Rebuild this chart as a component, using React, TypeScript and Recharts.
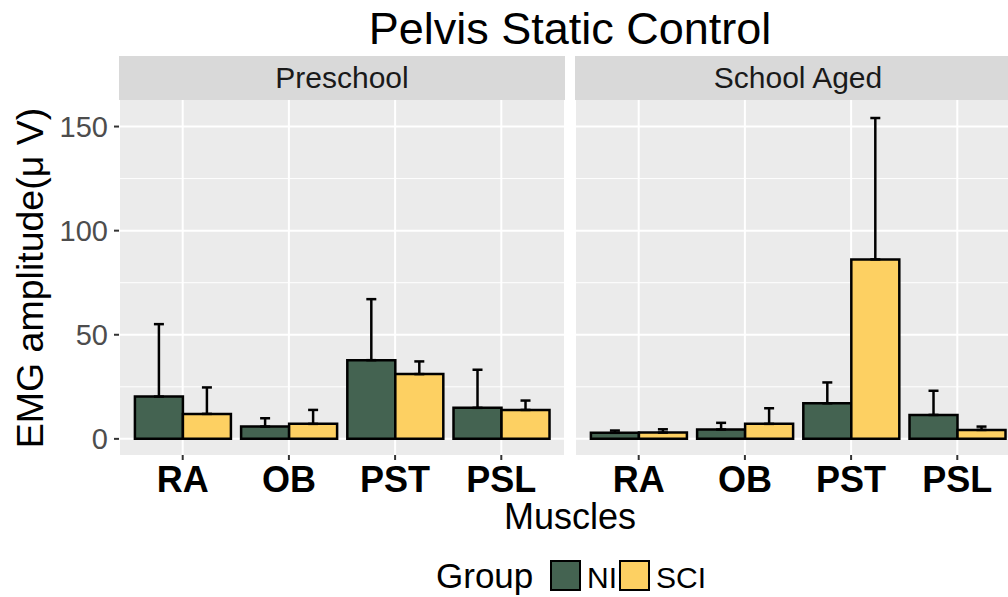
import { BarChart, Bar, XAxis, YAxis, CartesianGrid, ErrorBar } from 'recharts'

const FONT = '"Liberation Sans", Arial, Helvetica, sans-serif'

const muscles = ['RA', 'OB', 'PST', 'PSL']

// Preschool
const preschoolNI = [20.3, 5.9, 37.8, 14.9]
const preschoolNISd = [34.8, 4.0, 29.3, 18.3]
const preschoolSCI = [12.0, 7.2, 31.1, 13.9]
const preschoolSCISd = [12.7, 6.7, 6.1, 4.5]

// School Aged
const schoolNI = [2.9, 4.5, 17.1, 11.5]
const schoolNISd = [1.1, 3.2, 10.0, 11.6]
const schoolSCI = [3.0, 7.2, 86.2, 4.3]
const schoolSCISd = [1.6, 7.5, 67.9, 1.6]

const yTicks = [0, 50, 100, 150]
const yMinor = [25, 75, 125]

const NI_COLOR = '#446351'
const SCI_COLOR = '#fdd062'

function makeRows(ni: number[], niSd: number[], sci: number[], sciSd: number[]) {
  return muscles.map((m, i) => ({
    muscle: m,
    NI: ni[i],
    SCI: sci[i],
    niErr: [0, niSd[i]],
    sciErr: [0, sciSd[i]],
  }))
}

const preschoolRows = makeRows(preschoolNI, preschoolNISd, preschoolSCI, preschoolSCISd)
const schoolRows = makeRows(schoolNI, schoolNISd, schoolSCI, schoolSCISd)

interface PanelProps {
  rows: ReturnType<typeof makeRows>
  showY: boolean
}

function Panel({ rows, showY }: PanelProps) {
  const yWidth = showY ? 119 : 0
  return (
    <BarChart
      width={446 + yWidth}
      height={400}
      data={rows}
      margin={{ top: 0, right: 0, bottom: 0, left: 0 }}
      barCategoryGap="5%"
      barGap={0}
    >
      <CartesianGrid
        fill="#ebebeb"
        stroke="#ffffff"
        strokeWidth={2}
        horizontalValues={yTicks}
      />
      <CartesianGrid
        stroke="#ffffff"
        strokeWidth={1}
        vertical={false}
        horizontalValues={yMinor}
      />
      <XAxis
        dataKey="muscle"
        interval={0}
        height={45}
        padding={{ left: 10.6, right: 10.6 }}
        axisLine={false}
        tickLine={{ stroke: '#333333', strokeWidth: 2 }}
        tickSize={5}
        tickMargin={6}
        tick={{ fontSize: 36, fontWeight: 'bold', fill: '#000000', fontFamily: FONT }}
      />
      <YAxis
        hide={!showY}
        width={yWidth}
        domain={[-7.75, 162.75]}
        allowDataOverflow
        ticks={yTicks}
        axisLine={false}
        tickLine={{ stroke: '#333333', strokeWidth: 2 }}
        tickSize={5}
        tickMargin={6}
        tick={{ fontSize: 29, fill: '#4d4d4d', fontFamily: FONT }}
      />
      <Bar dataKey="NI" fill={NI_COLOR} stroke="#000000" strokeWidth={2.5} isAnimationActive={false}>
        <ErrorBar dataKey="niErr" width={5} stroke="#000000" strokeWidth={2.5} />
      </Bar>
      <Bar dataKey="SCI" fill={SCI_COLOR} stroke="#000000" strokeWidth={2.5} isAnimationActive={false}>
        <ErrorBar dataKey="sciErr" width={5} stroke="#000000" strokeWidth={2.5} />
      </Bar>
    </BarChart>
  )
}

const stripStyle = (left: number): React.CSSProperties => ({
  position: 'absolute',
  left,
  top: 56,
  width: 446,
  height: 44,
  background: '#d9d9d9',
  color: '#1a1a1a',
  fontSize: 30,
  lineHeight: '44px',
  textAlign: 'center',
  fontFamily: FONT,
})

export default function App() {
  return (
    <div
      style={{
        position: 'fixed',
        left: 0,
        top: 0,
        width: 1008,
        height: 597,
        overflow: 'hidden',
        background: '#ffffff',
        fontFamily: FONT,
      }}
    >
      <svg width={1008} height={597} style={{ position: 'absolute', left: 0, top: 0 }}>
        <text x={570} y={44} textAnchor="middle" fontSize={45} fill="#000" fontFamily={FONT}>
          Pelvis Static Control
        </text>
        <text
          transform="translate(43,278) rotate(-90)"
          textAnchor="middle"
          fontSize={37.5}
          fill="#000"
          fontFamily={FONT}
        >
          EMG amplitude(μ V)
        </text>
        <text x={570} y={529} textAnchor="middle" fontSize={36} fill="#000" fontFamily={FONT}>
          Muscles
        </text>
        <text x={436} y={588} fontSize={35} fill="#000" fontFamily={FONT}>
          Group
        </text>
        <rect x={551} y={561} width={29} height={29} fill={NI_COLOR} stroke="#000" strokeWidth={2} />
        <text x={587} y={588} fontSize={30} fill="#000" fontFamily={FONT}>
          NI
        </text>
        <rect x={620} y={561} width={29} height={29} fill={SCI_COLOR} stroke="#000" strokeWidth={2} />
        <text x={656} y={588} fontSize={30} fill="#000" fontFamily={FONT}>
          SCI
        </text>
      </svg>
      <div style={stripStyle(119)}>Preschool</div>
      <div style={stripStyle(575)}>School Aged</div>
      <div style={{ position: 'absolute', left: 0, top: 100 }}>
        <Panel rows={preschoolRows} showY />
      </div>
      <div style={{ position: 'absolute', left: 575, top: 100 }}>
        <Panel rows={schoolRows} showY={false} />
      </div>
    </div>
  )
}
